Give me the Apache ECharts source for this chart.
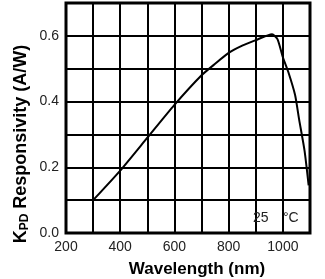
<!DOCTYPE html>
<html>
<head>
<meta charset="utf-8">
<script src="https://cdn.jsdelivr.net/npm/echarts@6/dist/echarts.min.js"></script>
<style>
  html, body { margin: 0; padding: 0; background: #fff; }
  #chart { width: 325px; height: 279px; }
</style>
</head>
<body>
<div id="chart"></div>
<script>
// Responsivity curve
var wavelength = [300, 400, 500, 600, 700, 750, 800, 850, 900, 960, 980, 1000, 1020, 1045, 1060, 1080, 1095];
var responsivity = [0.1, 0.19, 0.29, 0.39, 0.48, 0.515, 0.548, 0.57, 0.587, 0.605, 0.59, 0.535, 0.49, 0.42, 0.345, 0.25, 0.145];
var xLabels = [200, 400, 600, 800, 1000];
var yLabels = [0, 0.2, 0.4, 0.6];

var chart = echarts.init(document.getElementById("chart"));

var points = wavelength.map(function (w, i) {
  return [w, responsivity[i]];
});

var option = {
  animation: false,
  grid: { left: 66, top: 3, right: 15, bottom: 46 },
  xAxis: {
    type: "value",
    min: 200,
    max: 1100,
    interval: 100,
    axisLine: { show: false },
    axisTick: { show: false },
    splitLine: { show: true, lineStyle: { color: "#000", width: 2 } },
    axisLabel: {
      fontFamily: "Liberation Sans",
      fontSize: 14,
      color: "#222",
      margin: 7,
      formatter: function (v) {
        return xLabels.indexOf(v) >= 0 ? String(v) : "";
      },
    },
  },
  yAxis: {
    type: "value",
    min: 0,
    max: 0.7,
    interval: 0.1,
    axisLine: { show: false },
    axisTick: { show: false },
    splitLine: { show: true, lineStyle: { color: "#000", width: 2 } },
    axisLabel: {
      fontFamily: "Liberation Sans",
      fontSize: 14,
      color: "#222",
      margin: 7,
      formatter: function (v) {
        var r = Math.round(v * 10) / 10;
        for (var i = 0; i < yLabels.length; i++) {
          if (Math.abs(yLabels[i] - r) < 1e-6) return r.toFixed(1);
        }
        return "";
      },
    },
  },
  graphic: [
    {
      type: "rect",
      shape: { x: 66, y: 3, width: 244, height: 230 },
      style: { fill: "none", stroke: "#000", lineWidth: 3 },
      z: 10,
    },
    {
      type: "text",
      x: 253,
      y: 218,
      style: { text: "25", fontFamily: "Liberation Sans", fontSize: 14, fill: "#222", verticalAlign: "middle" },
      z: 10,
    },
    {
      type: "text",
      x: 283,
      y: 218,
      style: { text: "\u00b0C", fontFamily: "Liberation Sans", fontSize: 14, fill: "#222", verticalAlign: "middle" },
      z: 10,
    },
    {
      type: "text",
      x: 197,
      y: 269,
      style: {
        text: "Wavelength (nm)",
        fontFamily: "Liberation Sans",
        fontWeight: "bold",
        fontSize: 17,
        fill: "#000",
        align: "center",
        verticalAlign: "middle",
      },
      z: 10,
    },
    {
      type: "text",
      x: 21,
      y: 144,
      rotation: Math.PI / 2,
      style: {
        text: "{k|K}{s|PD}{k| Responsivity (A/W)}",
        align: "center",
        verticalAlign: "middle",
        rich: {
          k: { fontFamily: "Liberation Sans", fontWeight: "bold", fontSize: 18, fill: "#000" },
          s: { fontFamily: "Liberation Sans", fontWeight: "bold", fontSize: 12, fill: "#000", padding: [8, 0, 0, 0] },
        },
      },
      z: 10,
    },
  ],
  series: [
    {
      type: "line",
      data: points,
      showSymbol: false,
      smooth: 0.2,
      lineStyle: { color: "#000", width: 2 },
      z: 5,
    },
  ],
};
chart.setOption(option);
</script>
</body>
</html>
